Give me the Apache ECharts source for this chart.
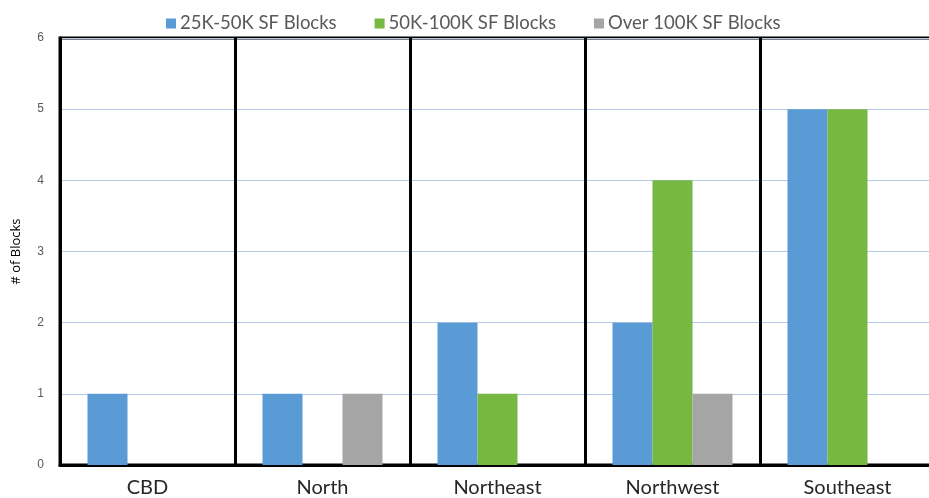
<!DOCTYPE html>
<html><head><meta charset="utf-8">
<script src="https://cdn.jsdelivr.net/npm/echarts@6/dist/echarts.min.js"></script>
<style>html,body{margin:0;padding:0;background:#fff}#c{width:929px;height:498px}</style>
</head><body><div id="c"></div>
<script>
const categories = ['CBD', 'North', 'Northeast', 'Northwest', 'Southeast'];
const seriesNames = ['25K-50K SF Blocks', '50K-100K SF Blocks', 'Over 100K SF Blocks'];
const blocks25to50 = [1, 1, 2, 2, 5];
const blocks50to100 = [0, 0, 1, 4, 5];
const blocksOver100 = [0, 1, 0, 1, 0];
const yTicks = [0, 1, 2, 3, 4, 5, 6];
const colors = ['#5b9bd5', '#77b843', '#a5a5a5'];

const chart = echarts.init(document.getElementById('c'), null, {renderer: 'canvas'});
const data = [blocks25to50, blocks50to100, blocksOver100];
chart.setOption({
  animation: false,
  legend: {
    top: 9, left: 161, itemWidth: 10, itemHeight: 10, itemGap: 38,
    icon: 'rect',
    textStyle: {fontFamily: 'Lato', fontSize: 18.5, color: '#595959', padding: [0, 0, 0, -1]},
    data: seriesNames
  },
  grid: {left: 60, right: -6, top: 38, bottom: 33, outerBoundsMode: 'none', containLabel: false,
    show: true, borderColor: '#000', borderWidth: 3},
  xAxis: {
    type: 'category', data: categories,
    axisLine: {show: true, lineStyle: {color: '#000', width: 3}},
    axisTick: {show: false},
    splitLine: {show: true, lineStyle: {color: '#000', width: 3}},
    axisLabel: {fontFamily: 'Lato', fontSize: 20, color: '#262626', margin: 13}
  },
  yAxis: {
    type: 'value', min: 0, max: 6, interval: 1,
    name: '# of Blocks', nameLocation: 'middle', nameGap: 37, nameRotate: 90,
    nameTextStyle: {fontFamily: 'Open Sans', fontSize: 13, color: '#000'},
    axisLine: {show: true, lineStyle: {color: '#000', width: 3}},
    axisTick: {show: false},
    axisLabel: {fontFamily: 'Liberation Sans', fontSize: 12, color: '#595959', margin: 16,
      formatter: v => yTicks.includes(v) ? String(v) : ''},
    splitLine: {show: true, lineStyle: {color: '#b4c7e7', width: 1}}
  },
  series: seriesNames.map((n, i) => ({
    name: n, type: 'bar', data: data[i], barWidth: 40, barGap: '0%',
    itemStyle: {color: colors[i]}
  }))
});
</script></body></html>
